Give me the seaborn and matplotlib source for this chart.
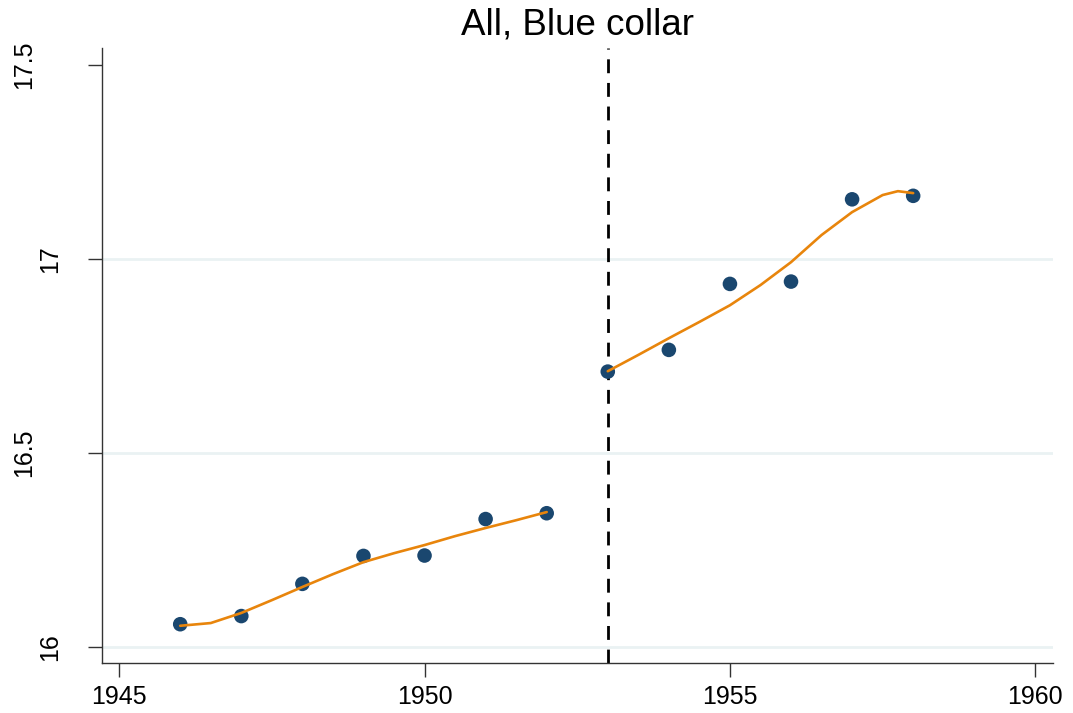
import numpy as np
import pandas as pd
import matplotlib
matplotlib.use("Agg")
import matplotlib.pyplot as plt
import matplotlib.transforms as mtransforms
import seaborn as sns

# binned means (dots)
years = [1946, 1947, 1948, 1949, 1950, 1951, 1952,
         1953, 1954, 1955, 1956, 1957, 1958]
means = [16.059, 16.080, 16.163, 16.235, 16.236, 16.330, 16.345,
         16.710, 16.766, 16.936, 16.942, 17.154, 17.163]

# smoothed fit (before / after the cutoff)
fit_x_pre = [1946, 1946.5, 1947, 1947.5, 1948, 1948.5, 1949, 1949.5,
             1950, 1950.5, 1951, 1951.5, 1952]
fit_y_pre = [16.055, 16.062, 16.088, 16.121, 16.155, 16.188, 16.219, 16.242,
             16.263, 16.286, 16.307, 16.327, 16.348]
fit_x_post = [1953, 1953.5, 1954, 1954.5, 1955, 1955.5, 1956, 1956.5,
              1957, 1957.5, 1957.75, 1958]
fit_y_post = [16.711, 16.753, 16.796, 16.838, 16.881, 16.933, 16.992, 17.062,
              17.121, 17.165, 17.175, 17.170]

cutoff = 1953
title = "All, Blue collar"
yticks = [16, 16.5, 17, 17.5]
ytick_labels = ["16", "16.5", "17", "17.5"]

sns.set_style("white")
plt.rcParams['font.family'] = ['Liberation Sans', 'DejaVu Sans']
plt.rcParams['text.color'] = 'black'
plt.rcParams['xtick.color'] = 'black'
plt.rcParams['ytick.color'] = 'black'

fig = plt.figure(figsize=(10.73, 7.13), dpi=100)
ax = fig.add_axes([0.0951, 0.0701, 0.8863, 0.8626])

dots = pd.DataFrame({"year": years, "mean": means})
pre = pd.DataFrame({"year": fit_x_pre, "fit": fit_y_pre})
post = pd.DataFrame({"year": fit_x_post, "fit": fit_y_post})

for yv in yticks[:3]:
    ax.axhline(yv, color="#eaf2f3", lw=2, zorder=0)

sns.lineplot(data=pre, x="year", y="fit", color="#e8850c", lw=1.9, ax=ax, zorder=3)
sns.lineplot(data=post, x="year", y="fit", color="#e8850c", lw=1.9, ax=ax, zorder=3)
sns.scatterplot(data=dots, x="year", y="mean", color="#1a476f", s=110,
                edgecolor="none", ax=ax, zorder=2)

ax.axvline(cutoff, color="black", lw=2, linestyle=(0, (5, 3.5)), zorder=1)

ax.set_xlim(1944.72, 1960.29)
ax.set_ylim(15.959, 17.544)
ax.set_xticks([1945, 1950, 1955, 1960])
ax.set_yticks(yticks)
ax.set_yticklabels(ytick_labels, rotation=90, va="center")
ax.tick_params(axis="both", labelsize=18, length=10, width=1,
               direction="out", left=True, bottom=True)
ax.tick_params(axis="x", pad=6, color="#333333")
ax.tick_params(axis="y", pad=19, color="#333333")

# labels with a decimal sit further left, as in the original
for lab in ax.get_yticklabels():
    if "." in lab.get_text():
        off = mtransforms.ScaledTranslation(-0.26, 0, fig.dpi_scale_trans)
        lab.set_transform(lab.get_transform() + off)

ax.set_xlabel("")
ax.set_ylabel("")
ax.set_title(title, fontsize=26.5, pad=10, color="black")

for s in ["top", "right"]:
    ax.spines[s].set_visible(False)
for s in ["left", "bottom"]:
    ax.spines[s].set_color("#333333")
    ax.spines[s].set_linewidth(1)

fig.savefig("out.png", dpi=100)
